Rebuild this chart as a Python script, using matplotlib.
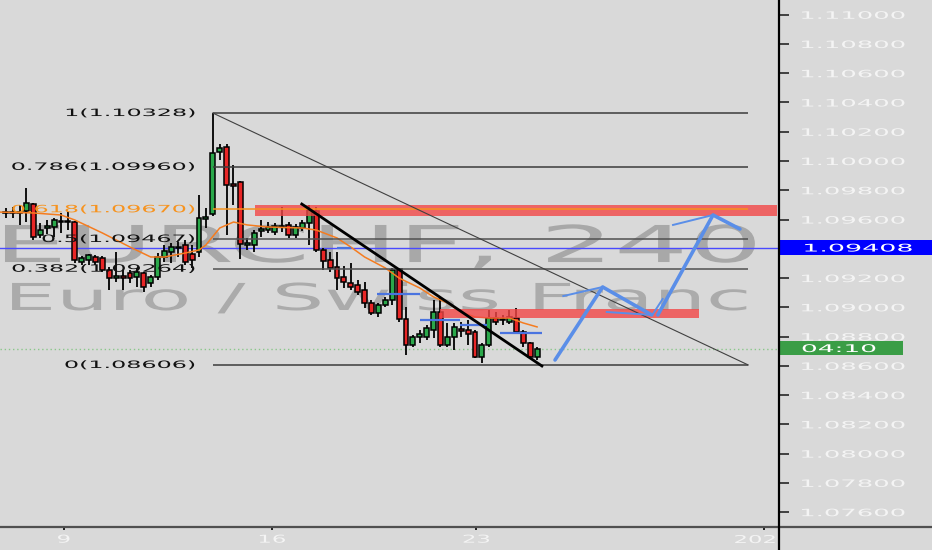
import numpy as np
import matplotlib
matplotlib.use("Agg")
import matplotlib.pyplot as plt
from matplotlib.patches import Rectangle
from matplotlib.lines import Line2D
from matplotlib.patheffects import AbstractPathEffect
from matplotlib.transforms import Affine2D

# EURCHF 4h candles
opens = [1.09645, 1.09651, 1.09645, 1.09658, 1.09706, 1.09494, 1.09542, 1.09549, 1.09590, 1.09583,
         1.09583, 1.09310, 1.09323, 1.09344, 1.09337, 1.09255, 1.09200, 1.09214, 1.09235, 1.09207,
         1.09235, 1.09166, 1.09207, 1.09344, 1.09378, 1.09412, 1.09426, 1.09364, 1.09378, 1.09604,
         1.09638, 1.10062, 1.10096, 1.09843, 1.09857, 1.09426, 1.09426, 1.09522, 1.09528, 1.09515,
         1.09556, 1.09563, 1.09494, 1.09542, 1.09576, 1.09658, 1.09392, 1.09323, 1.09276, 1.09207,
         1.09166, 1.09153, 1.09118, 1.09030, 1.08961, 1.09016, 1.09050, 1.09262, 1.08920, 1.08742,
         1.08797, 1.08797, 1.08845, 1.08968, 1.08742, 1.08797, 1.08852, 1.08845, 1.08831, 1.08660,
         1.08742, 1.08927, 1.08913, 1.08900, 1.08927, 1.08831, 1.08756, 1.08660]
highs = [1.09679, 1.09686, 1.09699, 1.09816, 1.09713, 1.09576, 1.09597, 1.09610, 1.09645, 1.09651,
         1.09590, 1.09351, 1.09364, 1.09358, 1.09351, 1.09276, 1.09378, 1.09255, 1.09255, 1.09269,
         1.09241, 1.09221, 1.09371, 1.09426, 1.09440, 1.09446, 1.09460, 1.09426, 1.09768, 1.09679,
         1.10328, 1.10116, 1.10116, 1.09973, 1.09863, 1.09474, 1.09528, 1.09597, 1.09583, 1.09576,
         1.09686, 1.09583, 1.09569, 1.09597, 1.09699, 1.09686, 1.09405, 1.09378, 1.09378, 1.09282,
         1.09303, 1.09187, 1.09173, 1.09050, 1.09030, 1.09071, 1.09269, 1.09269, 1.09002, 1.08811,
         1.08845, 1.08879, 1.09050, 1.09064, 1.08893, 1.08893, 1.08900, 1.08913, 1.08845, 1.08756,
         1.08982, 1.08968, 1.08948, 1.08982, 1.08995, 1.08845, 1.08763, 1.08729]
lows = [1.09610, 1.09610, 1.09563, 1.09583, 1.09460, 1.09474, 1.09501, 1.09481, 1.09508, 1.09528,
        1.09303, 1.09289, 1.09289, 1.09289, 1.09241, 1.09118, 1.09173, 1.09118, 1.09166, 1.09139,
        1.09105, 1.09139, 1.09187, 1.09310, 1.09303, 1.09344, 1.09289, 1.09269, 1.09344, 1.09542,
        1.09624, 1.10007, 1.09494, 1.09699, 1.09330, 1.09392, 1.09378, 1.09481, 1.09508, 1.09494,
        1.09515, 1.09474, 1.09474, 1.09522, 1.09426, 1.09378, 1.09255, 1.09241, 1.09118, 1.09132,
        1.09118, 1.09084, 1.08995, 1.08948, 1.08934, 1.09002, 1.09016, 1.08900, 1.08674, 1.08729,
        1.08756, 1.08777, 1.08790, 1.08729, 1.08729, 1.08708, 1.08797, 1.08742, 1.08654, 1.08619,
        1.08729, 1.08879, 1.08879, 1.08886, 1.08824, 1.08729, 1.08647, 1.08640]
closes = [1.09651, 1.09645, 1.09651, 1.09713, 1.09481, 1.09528, 1.09556, 1.09597, 1.09583, 1.09590,
          1.09323, 1.09337, 1.09358, 1.09310, 1.09255, 1.09200, 1.09214, 1.09200, 1.09200, 1.09241,
          1.09139, 1.09207, 1.09344, 1.09385, 1.09412, 1.09405, 1.09310, 1.09323, 1.09610, 1.09617,
          1.10055, 1.10089, 1.09836, 1.09829, 1.09433, 1.09440, 1.09508, 1.09535, 1.09549, 1.09556,
          1.09549, 1.09494, 1.09549, 1.09576, 1.09665, 1.09392, 1.09317, 1.09269, 1.09200, 1.09173,
          1.09139, 1.09105, 1.09030, 1.08961, 1.09016, 1.09050, 1.09255, 1.08920, 1.08742, 1.08797,
          1.08818, 1.08859, 1.08968, 1.08742, 1.08797, 1.08866, 1.08838, 1.08818, 1.08660, 1.08742,
          1.08927, 1.08900, 1.08920, 1.08934, 1.08831, 1.08756, 1.08660, 1.08715]

# orange moving average, sampled along the line
ma_idx = [-1, 4, 8, 10, 14, 18, 21, 23, 26, 28, 29, 31, 33, 35, 38, 43, 45, 48, 50, 52,
          55, 57, 60, 62, 64, 66, 68, 70, 73, 75, 77]
ma_val = [1.09651, 1.09645, 1.09631, 1.09597, 1.09508, 1.09412, 1.09344, 1.09344, 1.09371, 1.09392,
          1.09426, 1.09542, 1.09583, 1.09563, 1.09549, 1.09542, 1.09528, 1.09474, 1.09412, 1.09344,
          1.09269, 1.09200, 1.09132, 1.09071, 1.09030, 1.08968, 1.08934, 1.08927, 1.08927, 1.08893,
          1.08866]

fib_ratios = ["1", "0.786", "0.618", "0.5", "0.382", "0"]
fib_prices = [1.10328, 1.09960, 1.09670, 1.09467, 1.09264, 1.08606]
fib_start, fib_end = 30, 107.6

trend_x = [42.9, 77.7]
trend_y = [1.09706, 1.08599]

zones = [(36.1, 111.8, 1.09627, 1.09699), (62.9, 100.5, 1.08927, 1.08988)]

blue_segs = [(48, 50, 1.09405), (53.8, 60.0, 1.09091), (60.0, 65.8, 1.08913),
             (65.8, 69.7, 1.08879), (71.6, 77.7, 1.08824)]

# hand drawn projection
proj_a_x = [79.6, 86.5, 93.6]
proj_a_y = [1.08640, 1.09139, 1.08948]
proj_b_x = [94.5, 102.5, 106.4]
proj_b_y = [1.08948, 1.09631, 1.09535]
proj_thin = [([80.8, 86.5], [1.09077, 1.09139]), ([87.1, 93.6], [1.08968, 1.08948]),
             ([93.7, 95.2], [1.08948, 1.09057]), ([96.7, 102.5], [1.09563, 1.09631])]

hline_price = 1.09408
price_ticks = [1.076, 1.078, 1.080, 1.082, 1.084, 1.086, 1.088, 1.090, 1.092,
               1.096, 1.098, 1.100, 1.102, 1.104, 1.106, 1.108, 1.110]
date_pos = [8.4, 38.6, 68.2, 109.9]
date_labels = ["9", "16", "23", ""]

BG = "#d9d9d9"
GREEN = "#2aa84a"
RED = "#e82626"
TXT = "#f4f4f4"


class Stretch(AbstractPathEffect):
    # widen the glyphs horizontally, like the wide chart font
    def __init__(self, sx, anchor="left"):
        super().__init__()
        self.sx = sx
        self.anchor = anchor

    def draw_path(self, renderer, gc, tpath, affine, rgbFace=None):
        ext = tpath.get_extents(affine)
        if self.anchor == "left":
            px = ext.x0
        elif self.anchor == "right":
            px = ext.x1
        else:
            px = (ext.x0 + ext.x1) / 2
        aff = affine + Affine2D().translate(-px, 0).scale(self.sx, 1).translate(px, 0)
        renderer.draw_path(gc, tpath, aff, rgbFace)


fig = plt.figure(figsize=(9.32, 5.5), dpi=100, facecolor=BG)
ax = fig.add_axes([0, 23 / 550, 779 / 932, 527 / 550], facecolor=BG)
ax.set_xlim(-0.84, 112.06)
ax.set_ylim(1.074985, 1.111005)

# watermark
ax.text(0.0, 0.5028, "EURCHF, 240", transform=ax.transAxes, fontsize=36.6, color="#a8a8a8",
        ha="left", va="baseline", zorder=1, path_effects=[Stretch(2.3, "left")])
ax.text(0.0108, 0.4118, "Euro / Swiss Franc", transform=ax.transAxes, fontsize=26.7,
        color="#ababab", ha="left", va="baseline", zorder=1, path_effects=[Stretch(2.23, "left")])

# price line and current price line
ax.axhline(hline_price, color="#4a4aff", lw=1, zorder=2)
ax.axhline(closes[-1], color="#8ac78a", lw=1, ls=(0, (1, 2)), zorder=2)

# fib retracement
fib_cols = ["#3c3c3c", "#3c3c3c", "#f7931e", "#505050", "#505050", "#3c3c3c"]
ax.hlines(fib_prices, fib_start, fib_end, colors=fib_cols, lw=1.1, zorder=6)
ax.plot([fib_start, fib_end], [fib_prices[0], fib_prices[-1]], color="#404040", lw=0.8, zorder=6)
for r, p, col in zip(fib_ratios, fib_prices, fib_cols):
    tc = "#f7931e" if r == "0.618" else "#111111"
    ax.text(27.4, p, f"{r}({p:.5f})", ha="right", va="center", fontsize=7.3, color=tc,
            zorder=7, path_effects=[Stretch(2.35, "right")])

# candles
idx = np.arange(len(opens))
o = np.array(opens)
c = np.array(closes)
body_col = np.where(c >= o, GREEN, RED)
ax.vlines(idx, lows, highs, color="black", lw=1.3, zorder=3)
ax.bar(idx, np.maximum(np.abs(c - o), 0.00001), 0.72, bottom=np.minimum(o, c),
       color=body_col, edgecolor="black", linewidth=1.1, zorder=4)

# moving average
ax.plot(ma_idx, ma_val, color="#f57c1f", lw=1.1, zorder=5)

# zones
for x0, x1, y0, y1 in zones:
    ax.add_patch(Rectangle((x0, y0), x1 - x0, y1 - y0, facecolor="#f34747", alpha=0.8,
                           edgecolor="none", zorder=5))

# blue levels
for x0, x1, y in blue_segs:
    ax.hlines(y, x0, x1, color="#4a74e0", lw=1.6, zorder=6)

# trendline
ax.plot(trend_x, trend_y, color="black", lw=2, zorder=7)

# projection
ax.plot(proj_a_x, proj_a_y, color="#5a8ee8", lw=2.6, solid_capstyle="round", zorder=8)
ax.plot(proj_b_x, proj_b_y, color="#5a8ee8", lw=2.6, solid_capstyle="round", zorder=8)
for xs, ys in proj_thin:
    ax.plot(xs, ys, color="#5a8ee8", lw=1.4, zorder=8)

# axes
for s in ax.spines.values():
    s.set_visible(False)
ax.yaxis.tick_right()
ax.set_yticks(price_ticks)
ax.set_yticklabels([f"{v:.5f}" for v in price_ticks])
ax.tick_params(axis="y", length=7.2, width=1.4, color="#404040", pad=8.6, labelsize=7.3,
               labelcolor=TXT)
ax.set_xticks(date_pos)
ax.set_xticklabels(date_labels)
ax.tick_params(axis="x", length=2.5, width=1.2, color="black", pad=3, labelsize=7.8,
               labelcolor=TXT)
for t in ax.yaxis.get_major_ticks():
    t.label2.set_path_effects([Stretch(2.55, "left")])
for t in ax.xaxis.get_major_ticks():
    t.label1.set_path_effects([Stretch(2.1, "center")])
ax.text(111.6, -0.0247, "202", transform=ax.get_xaxis_transform(), ha="right", va="center",
        fontsize=7.8, color=TXT, path_effects=[Stretch(2.1, "right")])

fig.add_artist(Line2D([0, 1], [23 / 550, 23 / 550], transform=fig.transFigure,
                      color="#505050", lw=1.6))
fig.add_artist(Line2D([779 / 932, 779 / 932], [0, 1], transform=fig.transFigure,
                      color="black", lw=1.6))

# price labels on the scale
fig.add_artist(Rectangle((780 / 932, (550 - 255) / 550), 152 / 932, 15 / 550,
                         transform=fig.transFigure, facecolor="#0000ff", edgecolor="none"))
fig.text(804 / 932, (550 - 247.5) / 550, f"{hline_price:.5f}", color="white", fontsize=7.6,
         ha="left", va="center_baseline", path_effects=[Stretch(2.55, "left")])
fig.add_artist(Rectangle((780 / 932, (550 - 355) / 550), 123 / 932, 14 / 550,
                         transform=fig.transFigure, facecolor="#3a9d46", edgecolor="none"))
fig.text(802 / 932, (550 - 348) / 550, "04:10", color="white", fontsize=7.6,
         ha="left", va="center_baseline", path_effects=[Stretch(2.5, "left")])

fig.savefig("out.png", dpi=100, facecolor=BG)
